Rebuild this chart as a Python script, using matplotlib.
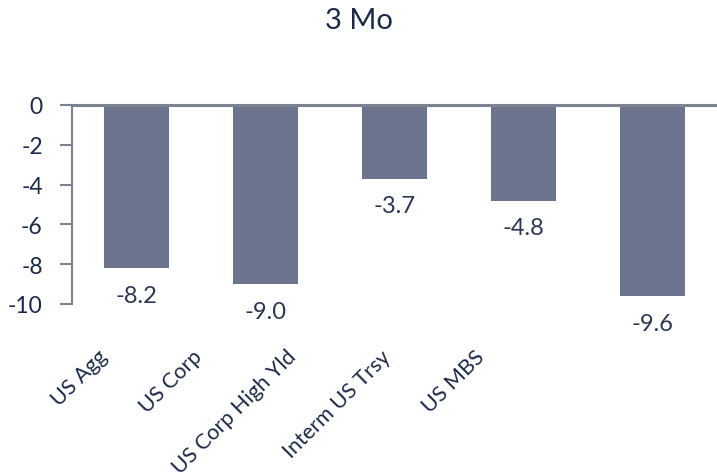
import matplotlib
matplotlib.use("Agg")
import matplotlib.pyplot as plt
import numpy as np

categories = ["US Agg", "US Corp", "US Corp High Yld", "Interm US Trsy", "US MBS"]
values = [-8.2, -9.0, -3.7, -4.8, -9.6]
yticks = [0, -2, -4, -6, -8, -10]
title = "3 Mo"

bar_color = "#6d758e"
text_color = "#1b2a4a"
axis_color = "#7d8290"

plt.rcParams['font.family'] = ['Lato', 'DejaVu Sans']

fig = plt.figure(figsize=(7.17, 4.77), dpi=100)
ax = fig.add_axes([0.1004, 0.3606, 0.8996, 0.4172])

x = np.arange(len(categories))
ax.bar(x, values, width=0.5, color=bar_color, zorder=2)

ax.set_xlim(-0.5, len(categories) - 0.5)
ax.set_ylim(-10, 0)
ax.set_yticks(yticks)
ax.set_yticklabels([str(t) for t in yticks], fontsize=16.5, color=text_color)
ax.tick_params(axis='y', length=9, width=1.5, color=axis_color, pad=12)
ax.set_xticks([])

for s in ['right', 'bottom']:
    ax.spines[s].set_visible(False)
ax.spines['left'].set_color(axis_color)
ax.spines['left'].set_linewidth(1.5)
ax.spines['top'].set_color(axis_color)
ax.spines['top'].set_linewidth(2.2)
ax.spines['top'].set_zorder(3)

for xi, v in zip(x, values):
    ax.annotate(f"{v:.1f}", xy=(xi, v), xytext=(0, -12), textcoords='offset points',
                ha='center', va='top', fontsize=17, color="#2a3654")

label_x = np.linspace(0.1437, 0.6695, len(categories)) - 0.008
for lx, c in zip(label_x, categories):
    fig.text(lx, 0.2725, c, rotation=45, rotation_mode='anchor', ha='right', va='top',
             fontsize=15.5, color=text_color)

fig.text(0.5, 0.956, title, ha='center', va='center', fontsize=21, color=text_color)

fig.savefig("out.png", dpi=100)
